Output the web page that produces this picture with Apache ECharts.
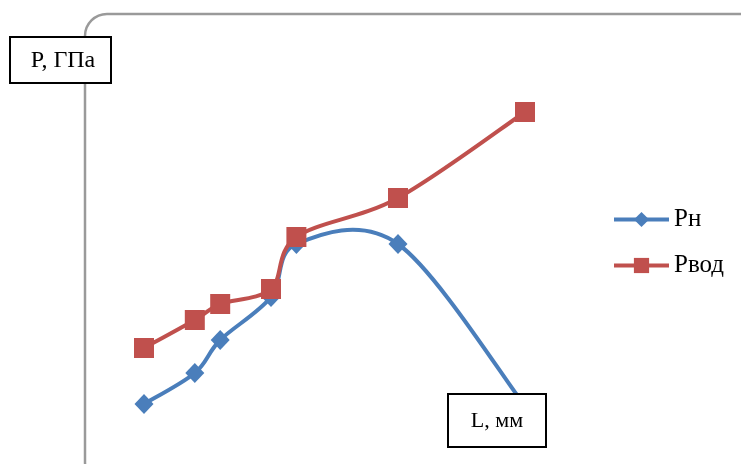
<!DOCTYPE html>
<html>
<head>
<meta charset="utf-8">
<script src="https://cdn.jsdelivr.net/npm/echarts@6/dist/echarts.min.js"></script>
<style>
  html, body { margin: 0; padding: 0; background: #fff; }
  #chart { width: 741px; height: 464px; }
</style>
</head>
<body>
<div id="chart"></div>
<script>
// Distance along the sample, mm
const lengths = [0, 2, 3, 5, 6, 10, 15];
// Pressure values, GPa
const pressureN = [4.6, 7.7, 11.0, 15.3, 20.6, 20.6, 4.4];
const pressureVod = [10.2, 13.0, 14.6, 16.1, 21.3, 25.2, 33.8];

const seriesNames = ['Рн', 'Рвод'];
const seriesColors = ['#4a7ebb', '#c0504d'];
const yAxisTitle = 'P, ГПа';
const xAxisTitle = 'L, мм';

const pairs = (ys) => lengths.map((x, i) => [x, ys[i]]);
const serif = 'Liberation Serif, Times New Roman, serif';

// Catmull-Rom spline through the points, drawn in pixel space
function smoothCurve(ys, color) {
  return function (params, api) {
    if (params.dataIndex !== 0) return null;
    const pts = lengths.map((x, i) => api.coord([x, ys[i]]));
    const n = pts.length;
    const children = [];
    for (let i = 0; i < n - 1; i++) {
      const p0 = pts[Math.max(i - 1, 0)];
      const p1 = pts[i];
      const p2 = pts[i + 1];
      const p3 = pts[Math.min(i + 2, n - 1)];
      children.push({
        type: 'bezierCurve',
        shape: {
          x1: p1[0], y1: p1[1],
          x2: p2[0], y2: p2[1],
          cpx1: p1[0] + (p2[0] - p0[0]) / 6,
          cpy1: p1[1] + (p2[1] - p0[1]) / 6,
          cpx2: p2[0] - (p3[0] - p1[0]) / 6,
          cpy2: p2[1] - (p3[1] - p1[1]) / 6
        },
        style: { stroke: color, lineWidth: 4, fill: null, lineCap: 'round' }
      });
    }
    return { type: 'group', children };
  };
}

const chart = echarts.init(document.getElementById('chart'), null, { renderer: 'canvas' });

chart.setOption({
  animation: false,
  backgroundColor: '#fff',
  grid: { left: 144, right: 216, top: 100, bottom: 14 },
  xAxis: { type: 'value', min: 0, max: 15, show: false },
  yAxis: { type: 'value', min: 0, max: 35, show: false },
  legend: {
    orient: 'vertical',
    left: 612,
    top: 207,
    padding: 0,
    itemWidth: 55,
    itemHeight: 19,
    itemGap: 21,
    lineStyle: { width: 4, opacity: 1 },
    textStyle: { fontFamily: serif, fontSize: 25, color: '#000' },
    data: seriesNames
  },
  graphic: [
    {
      type: 'rect',
      z: 0,
      silent: true,
      shape: { x: 85, y: 14, width: 680, height: 470, r: 22 },
      style: { fill: 'none', stroke: '#9a9a9a', lineWidth: 2.5 }
    },
    {
      type: 'group',
      z: 100,
      children: [
        {
          type: 'rect',
          z: 100,
          shape: { x: 10, y: 37, width: 101, height: 46 },
          style: { fill: '#fff', stroke: '#000', lineWidth: 2 }
        },
        {
          type: 'text',
          z: 101,
          x: 63, y: 61,
          style: { text: yAxisTitle, fontFamily: serif, fontSize: 24, fill: '#000', align: 'center', verticalAlign: 'middle' }
        },
        {
          type: 'rect',
          z: 100,
          shape: { x: 448, y: 394, width: 98, height: 53 },
          style: { fill: '#fff', stroke: '#000', lineWidth: 2 }
        },
        {
          type: 'text',
          z: 101,
          x: 497, y: 421,
          style: { text: xAxisTitle, fontFamily: serif, fontSize: 22, fill: '#000', align: 'center', verticalAlign: 'middle' }
        }
      ]
    }
  ],
  series: [
    {
      name: 'curve-n',
      type: 'custom',
      data: pairs(pressureN),
      renderItem: smoothCurve(pressureN, seriesColors[0]),
      clip: false,
      silent: true,
      z: 2
    },
    {
      name: 'curve-vod',
      type: 'custom',
      data: pairs(pressureVod),
      renderItem: smoothCurve(pressureVod, seriesColors[1]),
      clip: false,
      silent: true,
      z: 2
    },
    {
      name: seriesNames[0],
      type: 'line',
      data: pairs(pressureN),
      clip: false,
      symbol: 'diamond',
      symbolSize: [19, 20],
      itemStyle: { color: seriesColors[0] },
      lineStyle: { color: seriesColors[0], width: 4, opacity: 0 },
      z: 3
    },
    {
      name: seriesNames[1],
      type: 'line',
      data: pairs(pressureVod),
      clip: false,
      symbol: 'rect',
      symbolSize: 20,
      itemStyle: { color: seriesColors[1] },
      lineStyle: { color: seriesColors[1], width: 4, opacity: 0 },
      z: 4
    }
  ]
});
</script>
</body>
</html>
